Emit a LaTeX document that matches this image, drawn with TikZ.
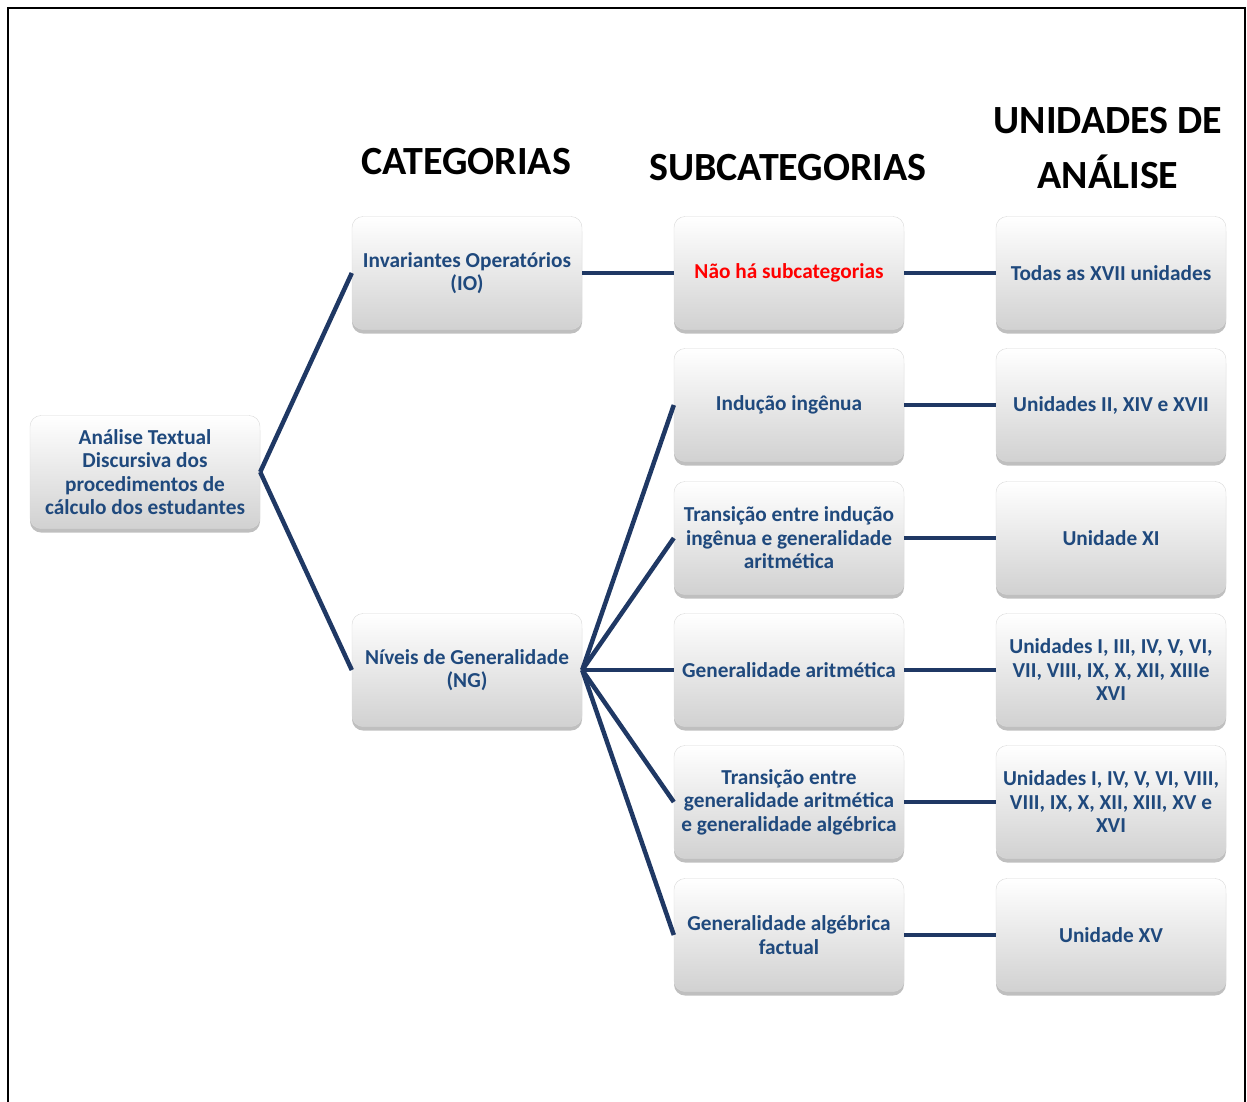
\documentclass[tikz,border=0pt]{standalone}
\usepackage{fontspec}
\setmainfont{Carlito}
\usetikzlibrary{shadows}
\definecolor{navy}{RGB}{31,73,125}
\definecolor{linkblue}{RGB}{31,56,100}
\begin{document}
\begin{tikzpicture}[x=1pt,y=-1pt,
  box/.style={rounded corners=11pt,minimum width=230pt,minimum height=113pt,
    top color=white,bottom color=black!18,draw=black!15,
    drop shadow={shadow xshift=0pt,shadow yshift=-4pt,opacity=0.5},
    align=center,text=navy,font=\bfseries\fontsize{21.3}{23.5}\selectfont},
  head/.style={align=center,font=\bfseries\fontsize{40}{55}\selectfont},
  link/.style={line width=4.5pt,linkblue}]
\useasboundingbox (0,0) rectangle (1247,1101);
% frame
\draw[line width=2pt] (8,1110) -- (8,8) -- (1245,8) -- (1245,1110);
% column titles
\node[head] (hcat) at (466,162) {CATEGORIAS};
\node[head] (hsub) at (788,168) {SUBCATEGORIAS};
\node[head] (hun) at (1108,148) {UNIDADES DE\\ANÁLISE};
% root and categories
\node[box] (root) at (145,472) {Análise Textual\\Discursiva dos\\procedimentos de\\cálculo dos estudantes};
\node[box] (io) at (467,273) {Invariantes Operatórios\\(IO)};
\node[box] (ng) at (467,670) {Níveis de Generalidade\\(NG)};
% subcategories
\node[box,text=red] (s0) at (789,273) {Não há subcategorias};
\node[box] (s1) at (789,405) {Indução ingênua};
\node[box] (s2) at (789,538) {Transição entre indução\\ingênua e generalidade\\aritmética};
\node[box] (s3) at (789,670) {Generalidade aritmética};
\node[box] (s4) at (789,802) {Transição entre\\generalidade aritmética\\e generalidade algébrica};
\node[box] (s5) at (789,935) {Generalidade algébrica\\factual};
% units of analysis
\node[box] (u0) at (1111,273) {Todas as XVII unidades};
\node[box] (u1) at (1111,405) {Unidades II, XIV e XVII};
\node[box] (u2) at (1111,538) {Unidade XI};
\node[box] (u3) at (1111,670) {Unidades I, III, IV, V, VI,\\VII, VIII, IX, X, XII, XIIIe\\XVI};
\node[box] (u4) at (1111,802) {Unidades I, IV, V, VI, VIII,\\VIII, IX, X, XII, XIII, XV e\\XVI};
\node[box] (u5) at (1111,935) {Unidade XV};
% connectors
\draw[link] (root.east) -- (io.west);
\draw[link] (root.east) -- (ng.west);
\draw[link] (io.east) -- (s0.west);
\foreach \s in {s1,s2,s3,s4,s5}
  \draw[link] (ng.east) -- (\s.west);
\foreach \i in {0,...,5}
  \draw[link] (s\i.east) -- (u\i.west);
\end{tikzpicture}
\end{document}
